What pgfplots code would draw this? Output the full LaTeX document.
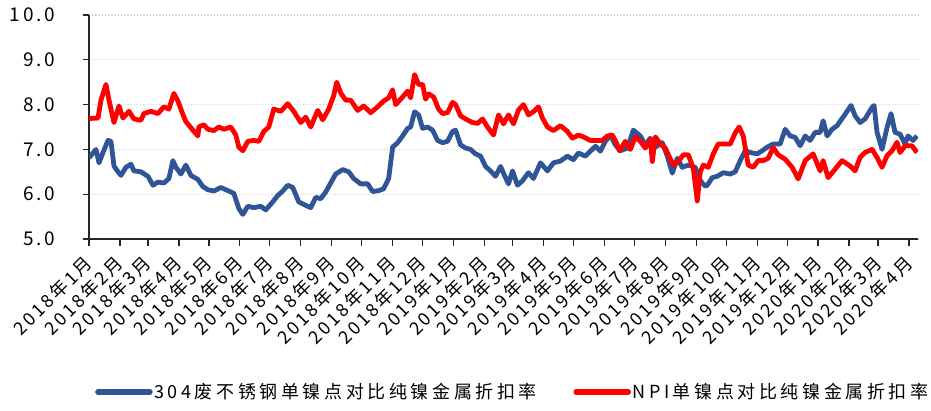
\documentclass[border=0pt]{standalone}
\usepackage{fontspec}
\usepackage{pgfplots}
\pgfplotsset{compat=1.18}
\setmainfont{Noto Sans CJK SC}
\newfontfamily\lsA[LetterSpace=15]{Noto Sans CJK SC}
\newfontfamily\lsB[LetterSpace=20]{Noto Sans CJK SC}
\definecolor{cblue}{RGB}{47,85,151}
\definecolor{cred}{RGB}{255,0,0}
\begin{document}
\begin{tikzpicture}[x=1pt,y=1pt]
\begin{axis}[
  at={(89pt,171pt)}, anchor=south west,
  scale only axis, width=829pt, height=224pt,
  xmin=0, xmax=830, ymin=5, ymax=10,
  axis x line*=bottom, axis y line*=left,
  axis line style={line width=1.5pt, color=black!85},
  tick align=outside,
  major tick length=6.5pt,
  tick style={line width=1.3pt, color=black!85},
  ytick={5,6,7,8,9,10},
  ymajorgrids,
  major grid style={line width=1.2pt, color=black!18, dash pattern=on 1.2pt off 2pt},
  /pgf/number format/assume math mode=true,
  yticklabel style={font=\lsA\fontsize{19}{19}\selectfont, /pgf/number format/fixed, /pgf/number format/precision=1, /pgf/number format/fixed zerofill, anchor=east, inner sep=0pt},
  yticklabel shift=27pt,
  xtick={0,31,59,90,120,151,181,212,243,273,304,334,365,396,424,455,485,516,546,577,608,638,669,699,730,761,790,821},
  xticklabels={2018年1月,2018年2月,2018年3月,2018年4月,2018年5月,2018年6月,2018年7月,2018年8月,2018年9月,2018年10月,2018年11月,2018年12月,2019年1月,2019年2月,2019年3月,2019年4月,2019年5月,2019年6月,2019年7月,2019年8月,2019年9月,2019年10月,2019年11月,2019年12月,2020年1月,2020年2月,2020年3月,2020年4月},
  xticklabel style={font=\lsA\fontsize{18}{18}\selectfont, rotate=45, anchor=east, inner sep=0pt},
  xticklabel shift=14pt,
  legend columns=2,
  legend style={draw=none, fill=none, at={(0.511,-0.683)}, anchor=center,
    font=\lsB\fontsize{18}{18}\selectfont, nodes={inner sep=1.5pt},
    /tikz/every even column/.append style={column sep=35pt}},
  legend image code/.code={\draw[#1, line width=5.5pt, line cap=round] (0pt,0pt) -- (52pt,0pt);},
  every axis plot/.append style={line width=4.8pt, line join=round, no markers},
]
\addplot[color=cblue] coordinates {
(0,6.81) (7,7.0) (10,6.7) (14,6.93) (19,7.2) (22,7.18) (25,6.63) (29,6.5) (32,6.42) (37,6.6)
(42,6.67) (45,6.52) (52,6.5) (59,6.4) (64,6.2) (69,6.27) (75,6.25) (80,6.35) (84,6.75) (87,6.6)
(92,6.45) (97,6.65) (102,6.42) (109,6.33) (114,6.17) (119,6.1) (125,6.07) (132,6.15) (137,6.1) (145,6.02)
(150,5.68) (154,5.55) (159,5.73) (165,5.7) (172,5.73) (177,5.65) (184,5.83) (189,5.97) (194,6.07) (199,6.2)
(204,6.15) (210,5.83) (217,5.75) (222,5.7) (227,5.93) (232,5.9) (237,6.05) (242,6.25) (247,6.45) (254,6.55)
(260,6.5) (265,6.35) (272,6.23) (279,6.23) (284,6.06) (290,6.08) (295,6.12) (300,6.35) (304,7.05) (309,7.15)
(314,7.3) (319,7.47) (322,7.5) (326,7.84) (330,7.77) (334,7.47) (339,7.5) (344,7.43) (349,7.2) (354,7.15)
(359,7.18) (364,7.4) (367,7.43) (372,7.1) (377,7.03) (382,7.0) (387,6.9) (392,6.85) (397,6.62) (402,6.52)
(407,6.4) (412,6.62) (417,6.37) (420,6.23) (424,6.52) (429,6.2) (434,6.3) (440,6.48) (445,6.35) (452,6.7)
(459,6.52) (465,6.7) (472,6.74) (479,6.85) (485,6.77) (490,6.92) (497,6.85) (502,6.96) (507,7.07) (512,6.96)
(517,7.18) (522,7.32) (527,7.1) (532,6.97) (539,7.03) (545,7.43) (552,7.3) (557,7.1) (562,7.25) (567,7.05)
(574,7.15) (579,6.85) (584,6.47) (589,6.8) (594,6.6) (600,6.65) (607,6.6) (612,6.3) (617,6.18) (619,6.2)
(624,6.37) (629,6.4) (635,6.48) (642,6.45) (647,6.5) (652,6.75) (657,6.97) (662,6.93) (669,6.9) (674,6.97)
(679,7.05) (685,7.12) (692,7.12) (697,7.45) (702,7.3) (707,7.27) (712,7.08) (717,7.3) (722,7.2) (727,7.38)
(732,7.38) (735,7.64) (739,7.3) (744,7.45) (749,7.53) (755,7.72) (763,7.98) (767,7.75) (772,7.6) (777,7.68)
(784,7.94) (786,7.98) (789,7.38) (794,7.0) (799,7.49) (803,7.8) (807,7.38) (812,7.34) (817,7.12) (820,7.3)
(825,7.2) (829,7.3)
};
\addlegendentry{304废不锈钢单镍点对比纯镍金属折扣率}
\addplot[color=cred] coordinates {
(0,7.69) (9,7.7) (12,8.1) (17,8.45) (20,8.1) (25,7.6) (30,7.97) (34,7.7) (40,7.85) (45,7.68)
(52,7.65) (55,7.8) (62,7.85) (69,7.8) (75,7.95) (80,7.9) (85,8.25) (89,8.08) (94,7.78) (97,7.62)
(104,7.43) (109,7.3) (110,7.5) (115,7.55) (119,7.45) (125,7.42) (130,7.5) (135,7.45) (142,7.5) (147,7.32)
(150,7.05) (154,6.97) (159,7.18) (165,7.2) (170,7.18) (175,7.4) (180,7.5) (185,7.9) (192,7.85) (199,8.02)
(205,7.85) (212,7.6) (217,7.72) (222,7.5) (229,7.87) (234,7.66) (240,7.9) (245,8.2) (248,8.5) (252,8.26)
(257,8.1) (262,8.1) (269,7.87) (275,7.97) (282,7.82) (289,7.95) (295,8.08) (300,8.15) (304,8.33) (307,8.0)
(314,8.17) (319,8.3) (322,8.15) (326,8.67) (330,8.45) (334,8.45) (337,8.12) (340,8.24) (345,8.17) (350,7.9)
(354,7.8) (359,7.82) (364,8.05) (367,8.0) (372,7.75) (377,7.68) (384,7.6) (389,7.58) (394,7.68) (399,7.5)
(405,7.32) (410,7.77) (415,7.57) (420,7.77) (425,7.57) (430,7.88) (435,8.0) (440,7.77) (445,7.84) (450,7.95)
(454,7.7) (459,7.5) (465,7.42) (472,7.53) (479,7.4) (484,7.25) (490,7.32) (495,7.28) (502,7.2) (509,7.2)
(514,7.2) (519,7.3) (524,7.32) (528,7.15) (531,6.97) (537,7.18) (542,7.0) (547,7.28) (552,7.18) (557,7.03)
(562,7.22) (564,6.73) (567,7.28) (572,7.12) (577,7.03) (580,6.88) (585,6.65) (590,6.73) (595,6.88) (600,6.88)
(605,6.58) (609,5.85) (612,6.5) (615,6.65) (620,6.6) (625,6.9) (630,7.12) (635,7.12) (642,7.12) (647,7.37)
(651,7.5) (655,7.3) (660,6.65) (665,6.6) (670,6.75) (675,6.75) (680,6.8) (685,7.04) (690,6.88) (697,6.78)
(704,6.6) (710,6.34) (717,6.75) (725,6.9) (732,6.52) (735,6.75) (740,6.37) (747,6.56) (754,6.75) (762,6.63)
(767,6.52) (772,6.82) (777,6.93) (784,7.0) (789,6.82) (794,6.6) (799,6.86) (804,6.97) (809,7.16) (812,6.93)
(817,7.08) (824,7.08) (829,6.93)
};
\addlegendentry{NPI单镍点对比纯镍金属折扣率}
\end{axis}
\pgfresetboundingbox
\path[use as bounding box] (0,0) rectangle (931,410);
\end{tikzpicture}
\end{document}
